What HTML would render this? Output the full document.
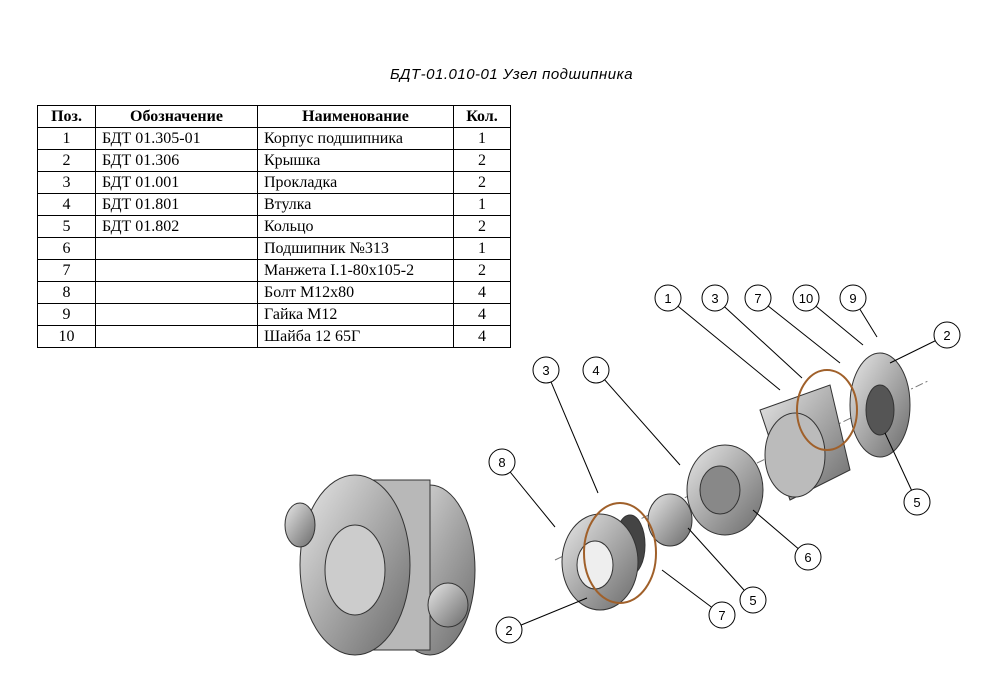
<!DOCTYPE html><html><head><meta charset="utf-8"><style>
body{margin:0;background:#fff;width:994px;height:686px;position:relative;overflow:hidden;font-family:"Liberation Serif",serif}
.t{position:absolute;left:390px;top:66px;font:italic 15px "Liberation Sans",sans-serif;letter-spacing:0.5px}
table{position:absolute;left:37px;top:105px;border-collapse:collapse;font-size:16px;table-layout:fixed;width:473px}
td{border:1px solid #000;height:21px;padding:0 6px;line-height:16px;white-space:nowrap;overflow:hidden}
th{border:1px solid #000;height:21px;font-weight:bold;padding:0}
td.c{text-align:center;padding:0}
</style></head><body>
<div class="t">БДТ-01.010-01 Узел подшипника</div>
<table>
<colgroup><col style="width:58px"><col style="width:162px"><col style="width:196px"><col style="width:57px"></colgroup>
<tr><th>Поз.</th><th>Обозначение</th><th>Наименование</th><th>Кол.</th></tr>
<tr><td class="c">1</td><td>БДТ 01.305-01</td><td>Корпус подшипника</td><td class="c">1</td></tr>
<tr><td class="c">2</td><td>БДТ 01.306</td><td>Крышка</td><td class="c">2</td></tr>
<tr><td class="c">3</td><td>БДТ 01.001</td><td>Прокладка</td><td class="c">2</td></tr>
<tr><td class="c">4</td><td>БДТ 01.801</td><td>Втулка</td><td class="c">1</td></tr>
<tr><td class="c">5</td><td>БДТ 01.802</td><td>Кольцо</td><td class="c">2</td></tr>
<tr><td class="c">6</td><td></td><td>Подшипник №313</td><td class="c">1</td></tr>
<tr><td class="c">7</td><td></td><td>Манжета I.1-80x105-2</td><td class="c">2</td></tr>
<tr><td class="c">8</td><td></td><td>Болт М12x80</td><td class="c">4</td></tr>
<tr><td class="c">9</td><td></td><td>Гайка М12</td><td class="c">4</td></tr>
<tr><td class="c">10</td><td></td><td>Шайба 12 65Г</td><td class="c">4</td></tr>
</table>
<svg width="994" height="686" style="position:absolute;left:0;top:0">
<defs><linearGradient id="g" x1="0" y1="0" x2="1" y2="1"><stop offset="0" stop-color="#e8e8e8"/><stop offset="0.5" stop-color="#a8a8a8"/><stop offset="1" stop-color="#6a6a6a"/></linearGradient></defs>
<g stroke="#333" stroke-width="1" fill="url(#g)">
<ellipse cx="430" cy="570" rx="45" ry="85"/>
<rect x="340" y="480" width="90" height="170" fill="#b8b8b8"/>
<ellipse cx="355" cy="565" rx="55" ry="90"/>
<ellipse cx="355" cy="570" rx="30" ry="45" fill="#ccc"/>
<ellipse cx="300" cy="525" rx="15" ry="22"/>
<ellipse cx="448" cy="605" rx="20" ry="22"/>
</g>
<g stroke="#333" stroke-width="1" fill="url(#g)">
<line x1="555" y1="560" x2="930" y2="380" stroke="#777" stroke-dasharray="8,3,2,3"/>
<ellipse cx="880" cy="405" rx="30" ry="52"/>
<ellipse cx="880" cy="410" rx="14" ry="25" fill="#555"/>
<path d="M760 410 L830 385 L850 470 L790 500 Z"/>
<ellipse cx="795" cy="455" rx="30" ry="42" fill="#bbb"/>
<ellipse cx="725" cy="490" rx="38" ry="45"/>
<ellipse cx="720" cy="490" rx="20" ry="24" fill="#888"/>
<ellipse cx="670" cy="520" rx="22" ry="26"/>
<ellipse cx="630" cy="545" rx="15" ry="30" fill="#444"/>
<ellipse cx="600" cy="562" rx="38" ry="48"/>
<ellipse cx="595" cy="565" rx="18" ry="24" fill="#eee"/>
<ellipse cx="620" cy="553" rx="36" ry="50" fill="none" stroke="#a0602a" stroke-width="2"/>
<ellipse cx="827" cy="410" rx="30" ry="40" fill="none" stroke="#a0602a" stroke-width="2"/>
</g>
<g stroke="#000" stroke-width="1">
<line x1="668" y1="298" x2="780" y2="390"/><line x1="715" y1="298" x2="802" y2="378"/>
<line x1="758" y1="298" x2="840" y2="363"/><line x1="806" y1="298" x2="863" y2="345"/>
<line x1="853" y1="298" x2="877" y2="337"/><line x1="947" y1="335" x2="890" y2="363"/>
<line x1="917" y1="502" x2="885" y2="433"/><line x1="808" y1="557" x2="753" y2="510"/>
<line x1="753" y1="600" x2="688" y2="528"/><line x1="722" y1="615" x2="662" y2="570"/>
<line x1="509" y1="630" x2="587" y2="598"/><line x1="502" y1="462" x2="555" y2="527"/>
<line x1="546" y1="370" x2="598" y2="493"/><line x1="596" y1="370" x2="680" y2="465"/>
</g>
<g stroke="#000" stroke-width="1" fill="#fff">
<circle cx="668" cy="298" r="13"/><circle cx="715" cy="298" r="13"/><circle cx="758" cy="298" r="13"/>
<circle cx="806" cy="298" r="13"/><circle cx="853" cy="298" r="13"/><circle cx="947" cy="335" r="13"/>
<circle cx="917" cy="502" r="13"/><circle cx="808" cy="557" r="13"/><circle cx="753" cy="600" r="13"/>
<circle cx="722" cy="615" r="13"/><circle cx="509" cy="630" r="13"/><circle cx="502" cy="462" r="13"/>
<circle cx="546" cy="370" r="13"/><circle cx="596" cy="370" r="13"/>
</g>
<g font-family="Liberation Sans,sans-serif" font-size="13" text-anchor="middle" fill="#000">
<text x="668" y="303">1</text><text x="715" y="303">3</text><text x="758" y="303">7</text>
<text x="806" y="303">10</text><text x="853" y="303">9</text><text x="947" y="340">2</text>
<text x="917" y="507">5</text><text x="808" y="562">6</text><text x="753" y="605">5</text>
<text x="722" y="620">7</text><text x="509" y="635">2</text><text x="502" y="467">8</text>
<text x="546" y="375">3</text><text x="596" y="375">4</text>
</g>
</svg>
</body></html>
